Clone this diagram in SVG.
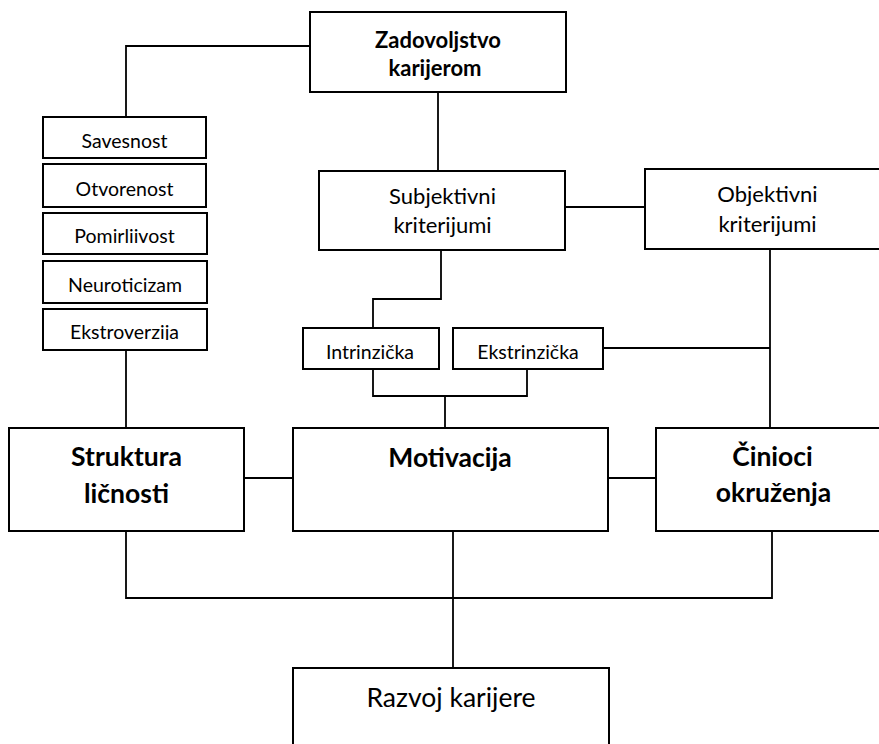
<svg xmlns="http://www.w3.org/2000/svg" width="879" height="744" viewBox="0 0 879 744">
<style>
.box{fill:#fff;stroke:#000;stroke-width:2}
.ln{fill:none;stroke:#000;stroke-width:1.8}
text{font-family:Lato,"Open Sans","Liberation Sans",sans-serif;fill:#000;text-anchor:middle}
.s{font-size:19.5px}
.m{font-size:22px}
.bm{font-size:22px;font-weight:bold}
.bl{font-size:26.5px;font-weight:bold}
.l{font-size:26.5px}
</style>
<defs>
<clipPath id="c1"><rect x="43" y="213" width="164" height="31"/></clipPath>
<clipPath id="c2"><rect x="43" y="309" width="164" height="31"/></clipPath>
</defs>
<rect x="0" y="0" width="879" height="744" fill="#fff"/>
<g id="connectors">
<polyline class="ln" points="310,46 126,46 126,117"/>
<line class="ln" x1="438" y1="92" x2="438" y2="171"/>
<line class="ln" x1="565" y1="207" x2="645" y2="207"/>
<polyline class="ln" points="441,250 441,299 373,299 373,328"/>
<polyline class="ln" points="373,369 373,396 527,396 527,369"/>
<line class="ln" x1="445" y1="396" x2="445" y2="428"/>
<line class="ln" x1="603" y1="348" x2="770" y2="348"/>
<line class="ln" x1="770" y1="249" x2="770" y2="428"/>
<line class="ln" x1="126" y1="351" x2="126" y2="428"/>
<line class="ln" x1="244" y1="478" x2="293" y2="478"/>
<line class="ln" x1="608" y1="478" x2="656" y2="478"/>
<polyline class="ln" points="126,531 126,598 772,598 772,531"/>
<line class="ln" x1="453" y1="531" x2="453" y2="668"/>
</g>
<g id="zadovoljstvo">
<rect class="box" x="310" y="12" width="256" height="80"/>
<text class="bm" x="438" y="48">Zadovoljstvo</text>
<text class="bm" x="435" y="76">karijerom</text>
</g>
<g id="savesnost">
<rect class="box" x="43" y="117" width="163" height="41"/>
<text class="s" x="124.5" y="148">Savesnost</text>
</g>
<g id="otvorenost">
<rect class="box" x="43" y="164" width="163" height="43"/>
<text class="s" x="124.5" y="196">Otvorenost</text>
</g>
<g id="pomirljivost">
<rect class="box" x="43" y="213" width="164" height="41"/>
<text class="s" x="124.5" y="243" clip-path="url(#c1)">Pomirliivost</text>
</g>
<g id="neuroticizam">
<rect class="box" x="43" y="261" width="164" height="42"/>
<text class="s" x="125" y="292">Neuroticizam</text>
</g>
<g id="ekstroverzija">
<rect class="box" x="43" y="309" width="164" height="41"/>
<text class="s" x="124.5" y="339" clip-path="url(#c2)">Ekstroverzija</text>
</g>
<g id="subjektivni">
<rect class="box" x="319" y="171" width="246" height="79"/>
<text class="m" x="442.5" y="204">Subjektivni</text>
<text class="m" x="442.5" y="233">kriterijumi</text>
</g>
<g id="objektivni">
<rect class="box" x="645" y="169" width="250" height="80"/>
<text class="m" x="767.5" y="202">Objektivni</text>
<text class="m" x="767.5" y="232">kriterijumi</text>
</g>
<g id="intrinzicka">
<rect class="box" x="303" y="328" width="136" height="41"/>
<text class="s" x="370" y="359">Intrinzička</text>
</g>
<g id="ekstrinzicka">
<rect class="box" x="453" y="328" width="150" height="41"/>
<text class="s" x="528" y="359">Ekstrinzička</text>
</g>
<g id="struktura">
<rect class="box" x="9" y="428" width="235" height="103"/>
<text class="bl" x="126.5" y="466">Struktura</text>
<text class="bl" x="126.5" y="503">ličnosti</text>
</g>
<g id="motivacija">
<rect class="box" x="293" y="428" width="315" height="103"/>
<text class="bl" x="450" y="467">Motivacija</text>
</g>
<g id="cinioci">
<rect class="box" x="656" y="428" width="240" height="103"/>
<text class="bl" x="772.5" y="466">Činioci</text>
<text class="bl" x="773.5" y="502">okruženja</text>
</g>
<g id="razvoj">
<rect class="box" x="293" y="668" width="316" height="90"/>
<text class="l" x="451" y="707">Razvoj karijere</text>
</g>
</svg>
